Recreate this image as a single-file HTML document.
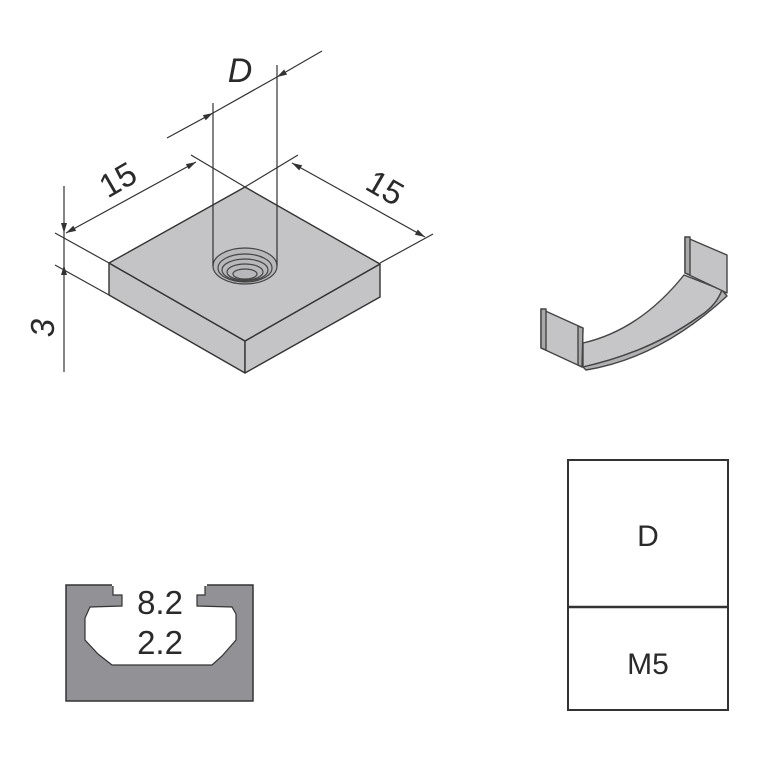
<!DOCTYPE html>
<html><head><meta charset="utf-8"><style>
html,body{margin:0;padding:0;background:#fff;}
svg{display:block;}
text{font-family:"Liberation Sans Narrow","Liberation Sans",sans-serif;fill:#2a2a2a;}
</style></head><body>
<svg width="768" height="768" viewBox="0 0 768 768" xmlns="http://www.w3.org/2000/svg">
<defs>
<marker id="a" viewBox="0 0 10 6" refX="10" refY="3" markerWidth="10" markerHeight="6" orient="auto-start-reverse" markerUnits="userSpaceOnUse"><path d="M0,0 L10,3 L0,6 z" fill="#333"/></marker>
</defs>
<!-- plate -->
<g stroke="#333" stroke-width="1.4" stroke-linejoin="round">
<polygon points="109,263 245,341 245,373 109,295" fill="#c4c4c7"/>
<polygon points="245,341 380,264 380,297 245,373" fill="#c4c4c7"/>
<polygon points="109,263 245,187 380,264 245,341" fill="#c4c4c7"/>
</g>
<g fill="none" stroke="#444" stroke-width="1.2">
<ellipse cx="245" cy="266" rx="32" ry="18" fill="#b8b8bb"/>
<ellipse cx="245" cy="268" rx="27" ry="14"/>
<ellipse cx="245" cy="270" rx="23" ry="11"/>
<ellipse cx="245" cy="272" rx="18" ry="8"/>
<ellipse cx="245" cy="274" rx="12" ry="5"/>
</g>
<g stroke="#333" stroke-width="1.2" fill="none">
<line x1="213" y1="103" x2="213" y2="266"/>
<line x1="277" y1="65" x2="277" y2="266"/>
<line x1="167" y1="138" x2="213" y2="113" marker-end="url(#a)"/>
<line x1="213" y1="113" x2="277" y2="77"/>
<line x1="322" y1="51" x2="277" y2="77" marker-end="url(#a)"/>
<line x1="55" y1="233" x2="109" y2="263"/>
<line x1="191" y1="155" x2="245" y2="187"/>
<line x1="66" y1="233" x2="196" y2="162" marker-start="url(#a)" marker-end="url(#a)"/>
<line x1="298" y1="155" x2="245" y2="187"/>
<line x1="433" y1="234" x2="380" y2="263"/>
<line x1="292" y1="163" x2="425" y2="237" marker-start="url(#a)" marker-end="url(#a)"/>
<line x1="55" y1="265" x2="109" y2="295"/>
<line x1="64" y1="186" x2="64" y2="233" marker-end="url(#a)"/>
<line x1="64" y1="233" x2="64" y2="265"/>
<line x1="64" y1="372" x2="64" y2="265" marker-end="url(#a)"/>
</g>
<text x="240" y="82" font-size="34" font-style="italic" text-anchor="middle">D</text>
<text x="118" y="191" font-size="33" text-anchor="middle" transform="rotate(-30 118 180)">15</text>
<text x="385" y="199" font-size="33" text-anchor="middle" transform="rotate(30 385 188)">15</text>
<text x="42" y="340" font-size="33" font-style="italic" text-anchor="middle" transform="rotate(-90 42 328)">3</text>
<!-- clip -->
<g stroke="#444" stroke-width="1.4" stroke-linejoin="round">
<path d="M684,275 L722,290 Q716,306 700,316 Q650,352 583,367 L583,343 Q640,330 684,275 Z" fill="#c6c6c9"/>
<path d="M722,290 Q716,306 700,316 Q650,352 583,367 L586,370 Q660,358 727,296 Z" fill="#b0b0b3"/>
<polygon points="685,237 727,255 727,293 685,273" fill="#c4c4c7"/>
<polygon points="685,237 690,237 690,275 685,273" fill="#a8a8ab"/>
<polygon points="541,309 583,328 582,367 541,348" fill="#c4c4c7"/>
<polygon points="541,309 546,309 546,350 541,348" fill="#a8a8ab"/>
<polygon points="578,326 583,328 582,367 578,365" fill="#a8a8ab"/>
</g>
<!-- profile -->
<rect x="66" y="585" width="187" height="116" fill="#929296" stroke="#333" stroke-width="1.5"/>
<polygon points="113,584 113,595 122,595 122,606 90,607 85,618 85,640 98,654 112,665 212,665 222,656 236,640 236,614 232,607 197,606 197,595 205,595 205,584" fill="#fff" stroke="#333" stroke-width="1.2"/>
<rect x="112" y="581" width="95" height="5" fill="#fff"/>
<text x="160" y="614" font-size="33" text-anchor="middle">8.2</text>
<text x="160" y="654" font-size="33" text-anchor="middle">2.2</text>
<!-- table -->
<rect x="568" y="460" width="160" height="250" fill="none" stroke="#333" stroke-width="2"/>
<line x1="568" y1="607" x2="728" y2="607" stroke="#333" stroke-width="2.5"/>
<text x="648" y="546" font-size="30" text-anchor="middle">D</text>
<text x="648" y="674" font-size="30" text-anchor="middle">M5</text>
</svg>
</body></html>
